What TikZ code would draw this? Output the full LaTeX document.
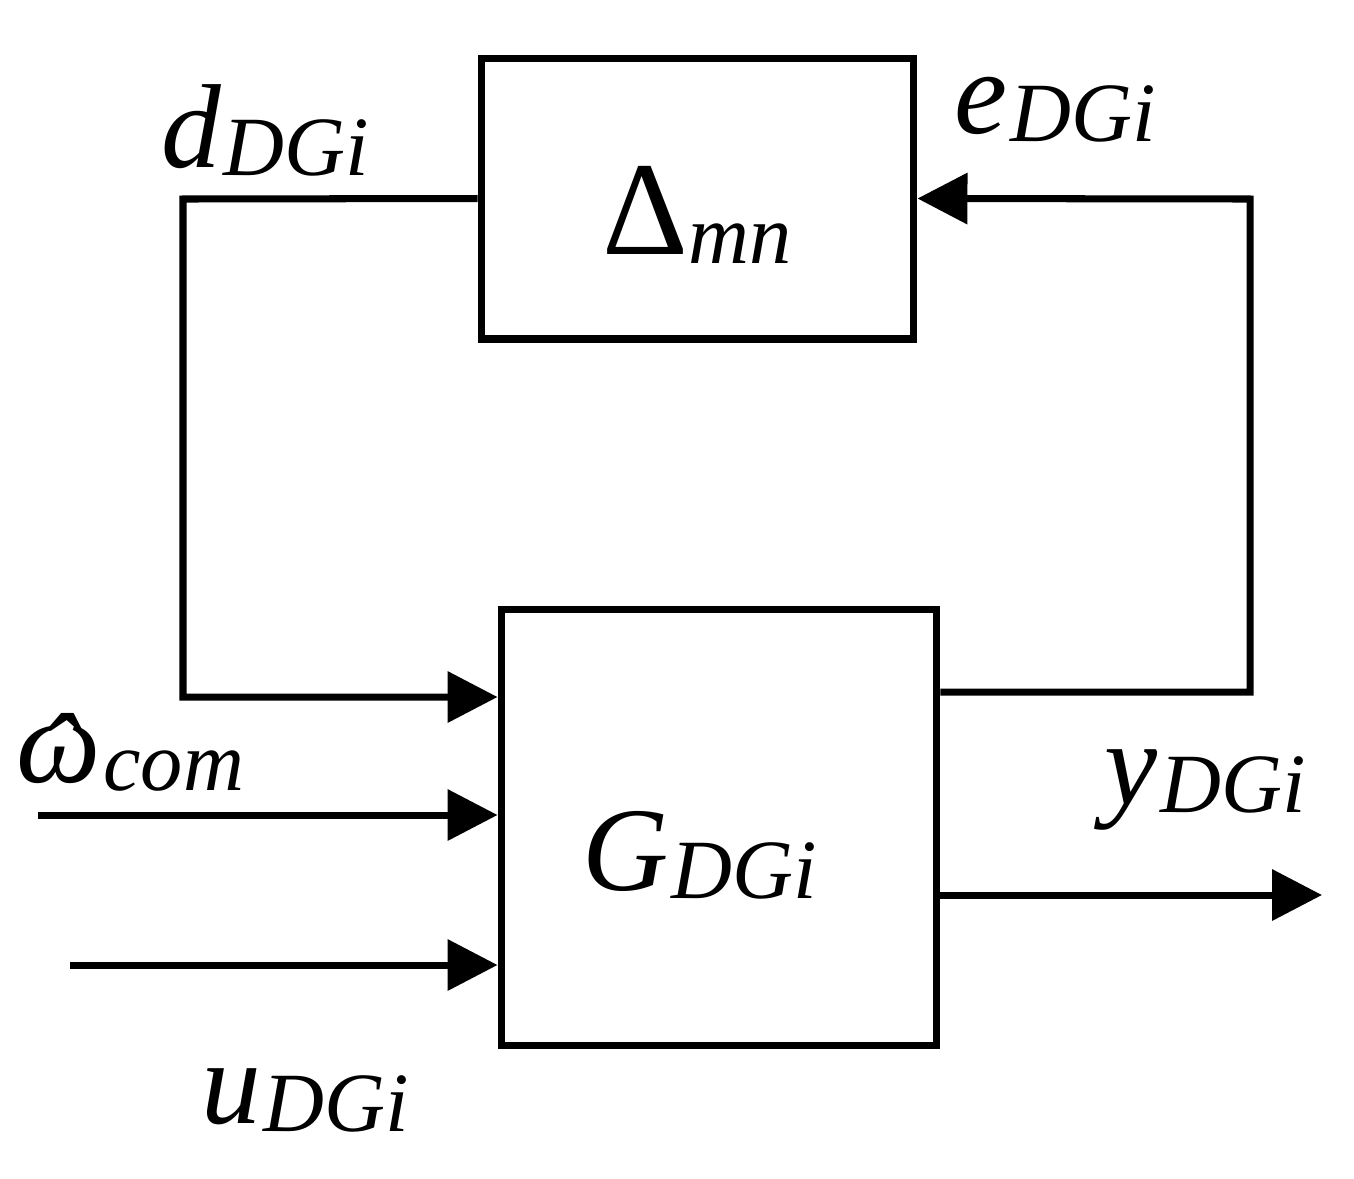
\documentclass[tikz,border=0pt]{standalone}
\usepackage{fontspec}
\setmainfont{Liberation Serif}
\usetikzlibrary{arrows.meta, positioning}
\newcommand\lbl[2]{{\fontsize{68}{72}\selectfont\itshape #1}\,\raisebox{-0.45em}{\fontsize{48}{52}\selectfont\itshape #2}}
\newcommand\hatw{\makebox[0pt][l]{\hspace{0.18em}\raisebox{-0.12em}{ˆ}}ω}

\begin{document}
\begin{tikzpicture}[x=0.02cm, y=-0.02cm,
        blk/.style={draw, line width=4pt, minimum width=#1, inner sep=0pt},
        sig/.style={line width=4pt, -{Triangle[length=1cm, width=1cm]}},
        wire/.style={line width=4pt}]
        \useasboundingbox (0,0) rectangle (1354,1178);

        \node[blk, minimum width=8.66cm, minimum height=5.62cm] (delta) at (697.5,198.5) {};
        \node[blk, minimum width=8.72cm, minimum height=8.74cm] (gdg) at (719,827.5) {};

        \node at (697,215) {{\fontsize{76}{80}\selectfont Δ}\raisebox{-0.5em}{\fontsize{48}{52}\selectfont\itshape mn}};
        \node at (700,855) {\lbl{G}{DGi}};
        \node at (265,130) {\lbl{d}{DGi}};
        \node at (1055,110) {\lbl{e}{DGi}};
        \node at (1205,790) {\lbl{y}{DGi}};
        \node at (305,1100) {\lbl{u}{DGi}};
        \node at (130,755) {\lbl{\hatw}{com}};

        \coordinate (lt) at (183,199);
        \coordinate (lb) at (183,697);
        \coordinate (rb) at (1250,692);
        \coordinate (rt) at (1250,199);
        \coordinate (win) at (38,815);
        \coordinate (uin) at (70,965);
        \coordinate (yout) at (1322,895);

        \draw[sig] (delta.west) -- (lt) -- (lb) -- (gdg.west |- lb);
        \draw[sig] (gdg.east |- rb) -- (rb) -- (rt) -- (delta.east);
        \draw[sig] (win) -- (gdg.west |- win);
        \draw[sig] (uin) -- (gdg.west |- uin);
        \draw[sig] (gdg.east |- yout) -- (yout);
    \end{tikzpicture}
\end{document}
